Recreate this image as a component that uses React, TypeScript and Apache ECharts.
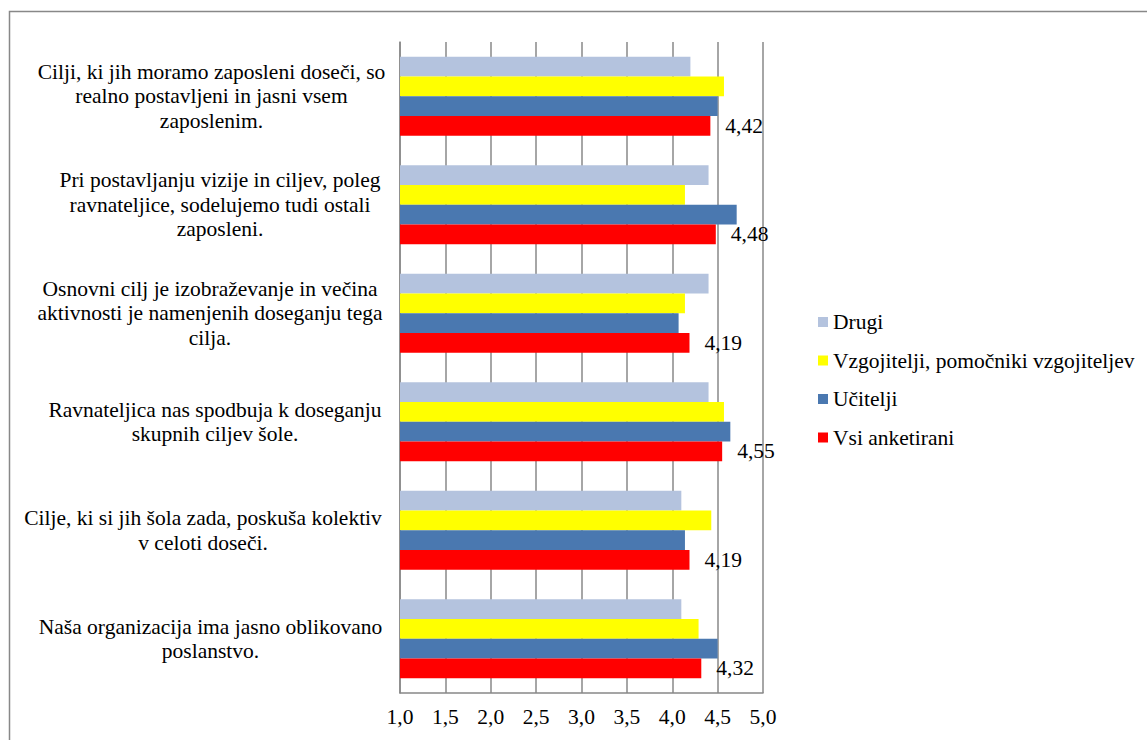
import React, { useEffect, useRef } from "react";
import * as echarts from "echarts";

const categories = [
  "Cilji, ki jih moramo zaposleni doseči, so\nrealno postavljeni in jasni vsem\nzaposlenim.",
  "Pri postavljanju vizije in ciljev, poleg\nravnateljice, sodelujemo tudi ostali\nzaposleni.",
  "Osnovni cilj je izobraževanje in večina\naktivnosti je namenjenih doseganju tega\ncilja.",
  "Ravnateljica nas spodbuja k doseganju\nskupnih ciljev šole.",
  "Cilje, ki si jih šola zada, poskuša kolektiv\nv celoti doseči.",
  "Naša organizacija ima jasno oblikovano\nposlanstvo.",
];

const seriesNames = ["Drugi", "Vzgojitelji, pomočniki vzgojiteljev", "Učitelji", "Vsi anketirani"];
const drugi = [4.2, 4.4, 4.4, 4.4, 4.1, 4.1];
const vzgojitelji = [4.57, 4.14, 4.14, 4.57, 4.43, 4.29];
const ucitelji = [4.5, 4.71, 4.07, 4.64, 4.14, 4.5];
const vsi = [4.42, 4.48, 4.19, 4.55, 4.19, 4.32];
const colors = ["#B4C3DE", "#FFFF00", "#4A78B0", "#FF0000"];

// layout: horizontal centre of each category label block (px)
const LABEL_ANCHOR = 221;
const labelCenters = [211.5, 220, 210, 215, 203, 210.5];

const FONT = "Times New Roman, Liberation Serif, DejaVu Serif, serif";
const FS = 21.5;

export default function App() {
  const ref = useRef<HTMLDivElement>(null);
  useEffect(() => {
    const chart = echarts.init(ref.current!, null, { renderer: "svg" });
    const data = [drugi, vzgojitelji, ucitelji, vsi];
    chart.setOption({
      animation: false,
      textStyle: { fontFamily: FONT },
      graphic: [
        {
          type: "rect",
          shape: { x: 9.5, y: 11.5, width: 1300, height: 900 },
          style: { fill: "none", stroke: "#888888", lineWidth: 1.5 },
          silent: true,
        },
      ],
      legend: {
        orient: "vertical",
        left: 813,
        top: 305,
        icon: "rect",
        itemWidth: 10,
        itemHeight: 10,
        itemGap: 14.5,
        data: seriesNames,
        textStyle: { fontFamily: FONT, fontSize: FS, color: "#000", lineHeight: 24, padding: [0, 0, 0, 0] },
      },
      grid: { left: 400, right: 384, top: 42, bottom: 47, containLabel: false, outerBoundsMode: "none" },
      xAxis: {
        type: "value",
        min: 1,
        max: 5,
        interval: 0.5,
        axisLine: { show: true, lineStyle: { color: "#888888", width: 1.5 } },
        axisTick: { show: false },
        splitLine: { show: true, lineStyle: { color: "#888888", width: 1.5 } },
        axisLabel: {
          margin: 13,
          fontFamily: FONT,
          fontSize: FS,
          color: "#000",
          formatter: (v: number) => v.toFixed(1).replace(".", ","),
        },
      },
      yAxis: {
        type: "category",
        inverse: true,
        data: categories.map((c, i) => ({
          value: c,
          textStyle: {
            align: "center",
            fontFamily: FONT,
            fontSize: FS,
            lineHeight: 24.5,
            color: "#000",
            padding: [0, 2 * (LABEL_ANCHOR - labelCenters[i]), 0, 0],
          },
        })),
        axisLine: { show: true, lineStyle: { color: "#888888", width: 1.5 } },
        axisTick: { show: false },
        axisLabel: {
          margin: 400 - LABEL_ANCHOR,
          align: "center",
          fontFamily: FONT,
          fontSize: FS,
          lineHeight: 24.5,
          color: "#000",
        },
      },
      series: seriesNames.map((name, i) => ({
        name,
        type: "bar",
        data: data[i],
        itemStyle: { color: colors[i] },
        barGap: "0%",
        barCategoryGap: "27%",
        label:
          i === 3
            ? {
                show: true,
                position: "right",
                distance: 15,
                fontFamily: FONT,
                fontSize: FS,
                color: "#000",
                formatter: (p: any) => p.value.toFixed(2).replace(".", ","),
              }
            : { show: false },
      })),
    });
    return () => chart.dispose();
  }, []);
  return (
    <div
      ref={ref}
      style={{ position: "absolute", left: 0, top: 0, width: 1147, height: 740, background: "#fff" }}
    />
  );
}
